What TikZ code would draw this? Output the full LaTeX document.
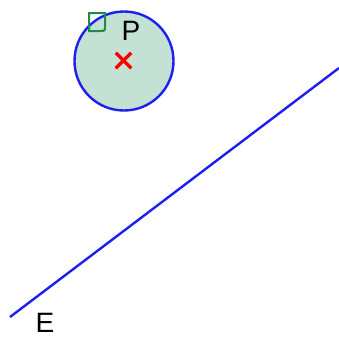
\documentclass[tikz,border=0pt]{standalone}
\usepackage{fontspec}
\setmainfont{Liberation Sans}
\usetikzlibrary{shapes.misc}
\definecolor{discfill}{RGB}{196,226,212}
\definecolor{markgreen}{RGB}{30,140,70}
\definecolor{lineblue}{RGB}{30,30,240}
\tikzset{
  lbl/.style={font=\fontsize{28}{28}\selectfont, inner sep=0pt},
  pmark/.style={cross out, draw=red, line width=3.5pt, minimum size=12pt, inner sep=0pt},
}

\begin{document}
\begin{tikzpicture}[x=1pt, y=-1pt]
  \useasboundingbox (0,0) rectangle (339,338);
  % Define the disc and its centre
  \coordinate (P) at (124,61);
  \draw[lineblue, line width=2.4pt, fill=discfill] (P) circle (49.5);
  \node[pmark] (Pc) at (123.5,60.5) {};
  \node[lbl] (Plbl) at (131,31) {P};

  % Corner mark
  \draw[markgreen, line width=2pt] (89,13) -- (105,13) -- (105,26)
    .. controls (105,31) .. (100,31) -- (89,31) -- cycle;

  % Draw the line
  \coordinate (E1) at (10,317);
  \coordinate (E2) at (339,68);
  \draw[lineblue, line width=2.4pt] (E1) -- (E2);
  \node[lbl] (Elbl) at (45,323) {E};
\end{tikzpicture}
\end{document}
